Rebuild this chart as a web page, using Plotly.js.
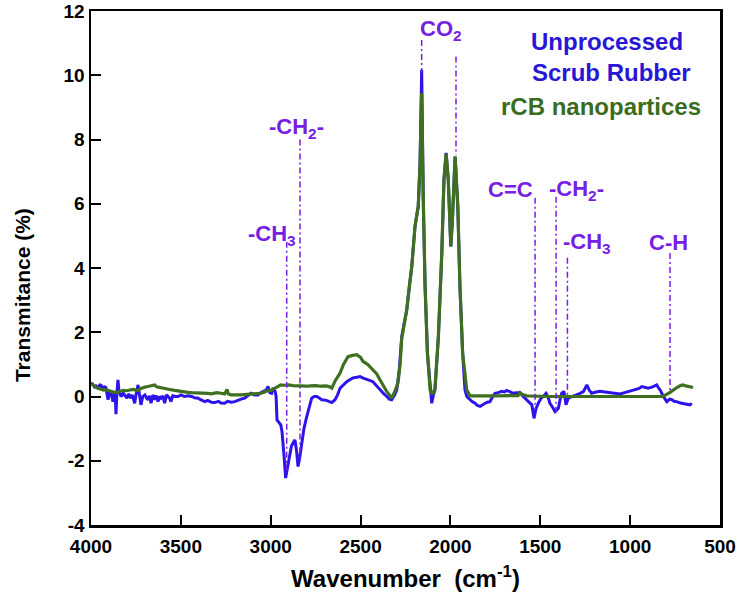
<!DOCTYPE html>
<html>
<head>
<meta charset="utf-8">
<script src="https://cdn.plot.ly/plotly-3.0.1.min.js"></script>
<style>html,body{margin:0;padding:0;background:#fff;}#chart{width:737px;height:606px;}</style>
</head>
<body>
<div id="chart"></div>
<script>
// ---- Data ----
const rubberWavenumber = [4000,3990,3980,3972,3962,3950,3944,3935,3925,3917,3910,3905,3895,3885,3878,3870,3865,3861,3856,3850,3845,3838,3833,3820,3810,3800,3790,3780,3770,3757,3748,3738,3730,3722,3712,3700,3690,3683,3675,3666,3655,3646,3638,3627,3618,3610,3600,3590,3580,3572,3563,3555,3545,3530,3516,3500,3480,3460,3440,3420,3405,3390,3367,3350,3330,3312,3290,3277,3256,3240,3220,3200,3180,3165,3145,3130,3110,3090,3071,3054,3040,3025,3015,3005,2995,2987,2975,2970,2965,2955,2944,2937,2932,2925,2917,2910,2904,2895,2885,2876,2865,2856,2848,2840,2827,2815,2800,2785,2772,2758,2744,2730,2716,2690,2670,2660,2642,2628,2614,2595,2577,2560,2542,2520,2503,2485,2466,2450,2431,2410,2392,2370,2354,2340,2327,2310,2299,2285,2271,2257,2243,2229,2215,2197,2179,2169,2160,2151,2141,2128,2113,2104,2095,2086,2067,2048,2036,2024,2012,1998,1989,1974,1959,1947,1932,1919,1909,1891,1881,1863,1850,1835,1820,1807,1795,1780,1765,1752,1735,1714,1700,1687,1670,1652,1635,1613,1595,1575,1560,1547,1535,1525,1511,1495,1483,1468,1458,1446,1430,1418,1408,1399,1390,1381,1368,1357,1344,1330,1316,1300,1279,1260,1241,1228,1214,1190,1167,1140,1112,1085,1056,1030,1000,970,950,935,915,899,875,852,840,833,815,796,780,768,755,741,720,705,685,667,657];
const rubberTransmittance = [0.42,0.38,0.30,0.33,0.28,0.36,0.35,0.22,0.30,0.28,0.05,-0.10,0.15,0.05,-0.16,0.10,0.05,-0.55,0.10,0.52,0.20,0.05,0.0,0.10,0.02,-0.05,0.08,-0.05,0.05,-0.21,0.10,0.36,0.05,-0.26,0.0,0.05,-0.05,-0.10,0.02,-0.21,0.05,-0.10,0.03,-0.16,0.0,-0.05,0.02,-0.21,0.05,0.0,-0.05,-0.16,0.02,0.0,0.0,0.05,0.0,0.02,0.0,-0.05,-0.05,-0.10,-0.16,-0.12,-0.18,-0.19,-0.15,-0.20,-0.21,-0.15,-0.18,-0.16,-0.10,-0.08,-0.05,0.02,0.10,0.05,0.05,0.12,0.15,0.20,0.31,0.12,0.10,0.27,0.15,0.0,-0.73,-0.80,-0.88,-1.10,-1.35,-1.90,-2.54,-2.30,-2.07,-1.80,-1.55,-1.45,-1.35,-1.70,-2.18,-1.95,-1.45,-1.00,-0.63,-0.30,-0.05,0.0,0.0,-0.05,-0.10,-0.12,-0.18,-0.19,-0.10,0.05,0.26,0.38,0.46,0.52,0.58,0.60,0.62,0.57,0.52,0.50,0.46,0.32,0.20,0.08,0.0,-0.08,-0.10,0.05,0.20,0.80,1.87,2.30,2.70,3.40,4.05,5.30,5.92,7.27,10.17,6.12,3.42,1.35,0.20,-0.21,0.05,0.20,1.87,4.47,6.75,7.58,6.75,4.67,5.50,7.47,5.92,3.42,1.35,0.20,0.0,-0.10,-0.15,-0.21,-0.28,-0.31,-0.25,-0.21,-0.18,-0.16,0.0,0.10,0.12,0.16,0.14,0.19,0.15,0.10,0.12,0.12,0.0,-0.10,-0.18,-0.26,-0.68,-0.40,-0.21,-0.05,0.0,0.10,0.0,-0.21,-0.35,-0.47,-0.42,-0.36,-0.10,0.10,0.16,-0.26,-0.05,-0.02,0.0,0.05,0.10,0.15,0.36,0.20,0.10,0.14,0.16,0.14,0.12,0.10,0.08,0.12,0.16,0.20,0.25,0.31,0.28,0.26,0.30,0.36,0.25,0.20,0.0,-0.16,-0.08,-0.10,-0.15,-0.16,-0.20,-0.21,-0.24,-0.26,-0.21];

const rcbWavenumber = [4000,3990,3980,3970,3961,3950,3940,3930,3920,3905,3890,3878,3865,3850,3835,3820,3805,3794,3780,3765,3750,3738,3725,3710,3695,3683,3670,3660,3646,3635,3620,3610,3590,3570,3555,3535,3516,3499,3480,3460,3443,3420,3405,3388,3365,3350,3332,3312,3300,3277,3256,3243,3235,3221,3200,3180,3165,3145,3125,3110,3090,3071,3054,3030,3015,2998,2980,2960,2944,2920,2900,2876,2850,2820,2800,2780,2750,2720,2690,2670,2660,2640,2614,2595,2570,2545,2521,2500,2486,2460,2431,2410,2392,2370,2354,2335,2327,2310,2292,2280,2271,2257,2243,2229,2215,2197,2179,2169,2160,2151,2141,2128,2113,2104,2095,2086,2067,2048,2036,2024,2012,1998,1989,1974,1959,1947,1932,1909,1891,1860,1820,1780,1740,1700,1650,1624,1613,1600,1575,1518,1450,1350,1250,1150,1050,950,850,817,780,761,740,720,706,690,670,650];
const rcbTransmittance = [0.40,0.35,0.30,0.28,0.26,0.24,0.22,0.20,0.21,0.19,0.15,0.13,0.12,0.14,0.16,0.19,0.18,0.19,0.20,0.22,0.20,0.19,0.24,0.28,0.30,0.31,0.33,0.36,0.36,0.30,0.28,0.26,0.24,0.22,0.21,0.19,0.17,0.16,0.14,0.13,0.12,0.12,0.12,0.12,0.10,0.10,0.08,0.09,0.12,0.10,0.08,0.22,0.08,0.05,0.06,0.05,0.05,0.06,0.07,0.08,0.09,0.10,0.10,0.15,0.19,0.19,0.25,0.30,0.36,0.35,0.36,0.34,0.33,0.34,0.32,0.33,0.34,0.32,0.33,0.30,0.26,0.50,0.73,1.00,1.24,1.28,1.30,1.22,1.09,1.00,0.83,0.70,0.52,0.30,0.15,0.02,-0.05,0.15,0.42,1.00,1.80,2.25,2.70,3.40,4.05,5.30,5.92,7.27,9.45,6.12,3.42,1.35,0.20,0.10,0.12,0.25,1.87,4.47,6.75,7.55,6.75,4.67,5.50,7.47,5.92,3.42,1.35,0.20,0.02,0.02,0.01,0.02,0.02,0.02,0.02,0.03,0.12,0.06,0.02,0.0,0.0,0.0,0.0,0.0,0.0,0.0,0.0,0.0,0.12,0.20,0.28,0.34,0.36,0.33,0.30,0.28];

// Peak assignment markers
const peakLabels = ["-CH<sub>3</sub>","-CH<sub>2</sub>-","CO<sub>2</sub>","","C=C","-CH<sub>2</sub>-","-CH<sub>3</sub>","C-H"];
const peakWavenumber = [2911,2837,2160,1969,1529,1412,1349,778];
const peakLineTop = [4.82,8.0,11.1,10.58,6.19,6.22,4.32,4.47];
const peakLineBottom = [-2.3,-2.0,10.1,7.52,-0.4,-0.5,0.0,0.2];
const labelX = [2993,2854,2052,null,1663,1301,1240,789];
const labelY = [5.03,8.36,11.42,null,6.43,6.43,4.78,4.78];

// Axis ticks
const xTickValues = [4000,3500,3000,2500,2000,1500,1000,500];
const xTickLabels = ["4000","3500","3000","2500","2000","1500","1000","500"];
const yTickValues = [-4,-2,0,2,4,6,8,10,12];
const yTickLabels = ["-4","-2","0","2","4","6","8","10","12"];

const seriesNames = ["Unprocessed","Scrub Rubber","rCB nanopartices"];

// ---- Build ----
const blue = 'rgb(45,20,232)';
const green = 'rgb(62,112,32)';
const purple = 'rgb(118,32,228)';
const font = 'Arial, "Liberation Sans", sans-serif';

const lineX = [], lineY = [];
peakWavenumber.forEach((w,i)=>{ lineX.push(w,w,null); lineY.push(peakLineTop[i],peakLineBottom[i],null); });

const traces = [
  {x: rubberWavenumber, y: rubberTransmittance, mode:'lines', line:{color:blue,width:3}, hoverinfo:'skip', showlegend:false},
  {x: rcbWavenumber, y: rcbTransmittance, mode:'lines', line:{color:green,width:3.2}, hoverinfo:'skip', showlegend:false},
  {x: lineX, y: lineY, mode:'lines', line:{color:purple,width:1.5,dash:'6px,3px,2px,3px'}, hoverinfo:'skip', showlegend:false}
];

const annotations = [];
peakLabels.forEach((t,i)=>{
  if(!t) return;
  annotations.push({x:labelX[i], y:labelY[i], xref:'x', yref:'y', text:'<b>'+t+'</b>', showarrow:false,
    font:{family:font, size:22, color:purple}, xanchor:'center', yanchor:'middle'});
});
annotations.push({x:0.82, y:0.94, xref:'paper', yref:'paper', text:'<b>'+seriesNames[0]+'</b>', showarrow:false, font:{family:font,size:24,color:'rgb(40,22,215)'}, xanchor:'center', yanchor:'middle'});
annotations.push({x:0.828, y:0.88, xref:'paper', yref:'paper', text:'<b>'+seriesNames[1]+'</b>', showarrow:false, font:{family:font,size:24,color:'rgb(40,22,215)'}, xanchor:'center', yanchor:'middle'});
annotations.push({x:0.811, y:0.814, xref:'paper', yref:'paper', text:'<b>'+seriesNames[2]+'</b>', showarrow:false, font:{family:font,size:24,color:'rgb(58,108,30)'}, xanchor:'center', yanchor:'middle'});
// y-axis title placed like the reference (slightly below plot centre)
annotations.push({x:-0.11, y:0.447, xref:'paper', yref:'paper', text:'<b>Transmitance (%)</b>', textangle:-90, showarrow:false, font:{family:font,size:21,color:'#000'}, xanchor:'center', yanchor:'middle'});

const layout = {
  width:737, height:606,
  margin:{l:91, r:17, t:11, b:81},
  paper_bgcolor:'#fff', plot_bgcolor:'#fff',
  showlegend:false,
  font:{family:font, color:'#000'},
  xaxis:{range:[4000,500], tickmode:'array', tickvals:xTickValues, ticktext:xTickLabels, showgrid:false, zeroline:false,
    showline:true, linecolor:'#000', linewidth:2.5, mirror:true,
    ticks:'inside', ticklen:10, tickwidth:2, tickcolor:'#000', ticklabelstandoff:3,
    tickfont:{family:font,size:19,color:'#000',weight:'bold'},
    title:{text:'<b>Wavenumber</b>&nbsp;&nbsp;<b>(cm<sup>-1</sup>)</b>', font:{family:font,size:24,color:'#000'}, standoff:14}},
  yaxis:{range:[-4,12], tickmode:'array', tickvals:yTickValues, ticktext:yTickLabels, showgrid:false, zeroline:false,
    showline:true, linecolor:'#000', linewidth:2.5, mirror:true,
    ticks:'inside', ticklen:10, tickwidth:2, tickcolor:'#000',
    tickfont:{family:font,size:19,color:'#000',weight:'bold'}},
  annotations: annotations
};

Plotly.newPlot('chart', traces, layout, {staticPlot:true, displayModeBar:false});
</script>
</body>
</html>
